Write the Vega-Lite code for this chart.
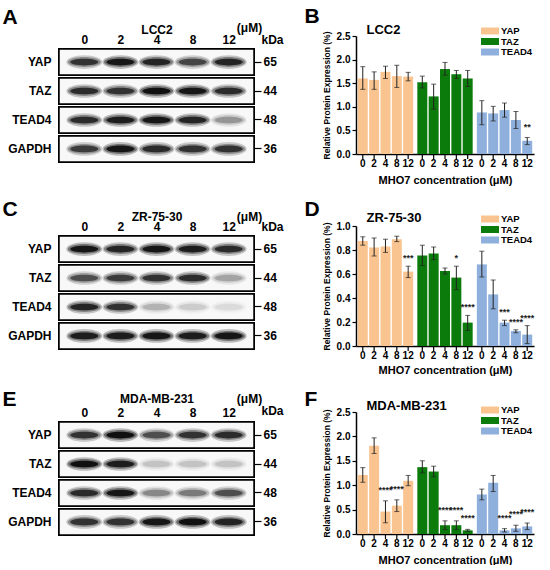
{
"$schema": "https://vega.github.io/schema/vega-lite/v6.json",
"background": "white",
"padding": {"left": 2, "top": 5, "right": 2, "bottom": 0},
"config": {"font": "Liberation Sans", "view": {"stroke": null}, "axis": {"labelColor": "black", "titleColor": "black"}, "axisQuantitative": {"tickCount": 6, "labelOverlap": false}},
"resolve": {"scale": {"color": "independent", "fillOpacity": "independent"}, "legend": {"color": "independent"}},
"datasets": {
"lcc2": [
{"protein":"YAP","dose":"0","mean":1.60,"lo":1.37,"hi":1.85,"sig":""},
{"protein":"YAP","dose":"2","mean":1.57,"lo":1.37,"hi":1.74,"sig":""},
{"protein":"YAP","dose":"4","mean":1.74,"lo":1.60,"hi":1.86,"sig":""},
{"protein":"YAP","dose":"8","mean":1.65,"lo":1.41,"hi":1.88,"sig":""},
{"protein":"YAP","dose":"12","mean":1.64,"lo":1.55,"hi":1.73,"sig":""},
{"protein":"TAZ","dose":"0","mean":1.52,"lo":1.40,"hi":1.65,"sig":""},
{"protein":"TAZ","dose":"2","mean":1.22,"lo":0.95,"hi":1.48,"sig":""},
{"protein":"TAZ","dose":"4","mean":1.80,"lo":1.67,"hi":1.94,"sig":""},
{"protein":"TAZ","dose":"8","mean":1.69,"lo":1.60,"hi":1.77,"sig":""},
{"protein":"TAZ","dose":"12","mean":1.60,"lo":1.43,"hi":1.77,"sig":""},
{"protein":"TEAD4","dose":"0","mean":0.88,"lo":0.62,"hi":1.13,"sig":""},
{"protein":"TEAD4","dose":"2","mean":0.86,"lo":0.70,"hi":1.01,"sig":""},
{"protein":"TEAD4","dose":"4","mean":0.93,"lo":0.78,"hi":1.08,"sig":""},
{"protein":"TEAD4","dose":"8","mean":0.72,"lo":0.54,"hi":0.90,"sig":""},
{"protein":"TEAD4","dose":"12","mean":0.28,"lo":0.20,"hi":0.35,"sig":"**"}
],
"zr": [
{"protein":"YAP","dose":"0","mean":0.875,"lo":0.84,"hi":0.91,"sig":""},
{"protein":"YAP","dose":"2","mean":0.82,"lo":0.75,"hi":0.90,"sig":""},
{"protein":"YAP","dose":"4","mean":0.83,"lo":0.78,"hi":0.89,"sig":""},
{"protein":"YAP","dose":"8","mean":0.89,"lo":0.87,"hi":0.915,"sig":""},
{"protein":"YAP","dose":"12","mean":0.62,"lo":0.57,"hi":0.665,"sig":"***"},
{"protein":"TAZ","dose":"0","mean":0.755,"lo":0.67,"hi":0.84,"sig":""},
{"protein":"TAZ","dose":"2","mean":0.77,"lo":0.72,"hi":0.825,"sig":""},
{"protein":"TAZ","dose":"4","mean":0.625,"lo":0.60,"hi":0.65,"sig":""},
{"protein":"TAZ","dose":"8","mean":0.57,"lo":0.47,"hi":0.665,"sig":"*"},
{"protein":"TAZ","dose":"12","mean":0.195,"lo":0.13,"hi":0.255,"sig":"****"},
{"protein":"TEAD4","dose":"0","mean":0.68,"lo":0.575,"hi":0.79,"sig":""},
{"protein":"TEAD4","dose":"2","mean":0.43,"lo":0.31,"hi":0.55,"sig":""},
{"protein":"TEAD4","dose":"4","mean":0.195,"lo":0.17,"hi":0.215,"sig":"***"},
{"protein":"TEAD4","dose":"8","mean":0.125,"lo":0.11,"hi":0.135,"sig":"****"},
{"protein":"TEAD4","dose":"12","mean":0.095,"lo":0.02,"hi":0.17,"sig":"****"}
],
"mda": [
{"protein":"YAP","dose":"0","mean":1.21,"lo":1.06,"hi":1.36,"sig":""},
{"protein":"YAP","dose":"2","mean":1.81,"lo":1.65,"hi":1.97,"sig":""},
{"protein":"YAP","dose":"4","mean":0.46,"lo":0.23,"hi":0.68,"sig":"****"},
{"protein":"YAP","dose":"8","mean":0.58,"lo":0.46,"hi":0.70,"sig":"****"},
{"protein":"YAP","dose":"12","mean":1.09,"lo":0.99,"hi":1.20,"sig":""},
{"protein":"TAZ","dose":"0","mean":1.37,"lo":1.25,"hi":1.50,"sig":""},
{"protein":"TAZ","dose":"2","mean":1.28,"lo":1.17,"hi":1.39,"sig":""},
{"protein":"TAZ","dose":"4","mean":0.18,"lo":0.09,"hi":0.27,"sig":"****"},
{"protein":"TAZ","dose":"8","mean":0.18,"lo":0.09,"hi":0.27,"sig":"****"},
{"protein":"TAZ","dose":"12","mean":0.075,"lo":0.055,"hi":0.095,"sig":"****"},
{"protein":"TEAD4","dose":"0","mean":0.81,"lo":0.70,"hi":0.92,"sig":""},
{"protein":"TEAD4","dose":"2","mean":1.05,"lo":0.87,"hi":1.20,"sig":""},
{"protein":"TEAD4","dose":"4","mean":0.075,"lo":0.04,"hi":0.11,"sig":"****"},
{"protein":"TEAD4","dose":"8","mean":0.115,"lo":0.055,"hi":0.18,"sig":"****"},
{"protein":"TEAD4","dose":"12","mean":0.155,"lo":0.09,"hi":0.225,"sig":"****"}
],
"blotA": [
{"protein":"YAP","lane":"0","v":0.75},{"protein":"YAP","lane":"2","v":0.95},{"protein":"YAP","lane":"4","v":0.85},{"protein":"YAP","lane":"8","v":0.65},{"protein":"YAP","lane":"12","v":0.85},
{"protein":"TAZ","lane":"0","v":0.8},{"protein":"TAZ","lane":"2","v":0.75},{"protein":"TAZ","lane":"4","v":1.0},{"protein":"TAZ","lane":"8","v":0.95},{"protein":"TAZ","lane":"12","v":0.8},
{"protein":"TEAD4","lane":"0","v":0.8},{"protein":"TEAD4","lane":"2","v":0.9},{"protein":"TEAD4","lane":"4","v":0.95},{"protein":"TEAD4","lane":"8","v":0.85},{"protein":"TEAD4","lane":"12","v":0.3},
{"protein":"GAPDH","lane":"0","v":0.7},{"protein":"GAPDH","lane":"2","v":0.95},{"protein":"GAPDH","lane":"4","v":0.8},{"protein":"GAPDH","lane":"8","v":0.75},{"protein":"GAPDH","lane":"12","v":0.75}
],
"blotC": [
{"protein":"YAP","lane":"0","v":0.95},{"protein":"YAP","lane":"2","v":0.85},{"protein":"YAP","lane":"4","v":0.95},{"protein":"YAP","lane":"8","v":0.9},{"protein":"YAP","lane":"12","v":0.8},
{"protein":"TAZ","lane":"0","v":0.6},{"protein":"TAZ","lane":"2","v":0.7},{"protein":"TAZ","lane":"4","v":0.75},{"protein":"TAZ","lane":"8","v":0.8},{"protein":"TAZ","lane":"12","v":0.25},
{"protein":"TEAD4","lane":"0","v":0.85},{"protein":"TEAD4","lane":"2","v":0.75},{"protein":"TEAD4","lane":"4","v":0.2},{"protein":"TEAD4","lane":"8","v":0.12},{"protein":"TEAD4","lane":"12","v":0.08},
{"protein":"GAPDH","lane":"0","v":0.9},{"protein":"GAPDH","lane":"2","v":0.9},{"protein":"GAPDH","lane":"4","v":0.95},{"protein":"GAPDH","lane":"8","v":0.9},{"protein":"GAPDH","lane":"12","v":0.95}
],
"blotE": [
{"protein":"YAP","lane":"0","v":0.75},{"protein":"YAP","lane":"2","v":1.0},{"protein":"YAP","lane":"4","v":0.6},{"protein":"YAP","lane":"8","v":0.75},{"protein":"YAP","lane":"12","v":0.8},
{"protein":"TAZ","lane":"0","v":1.0},{"protein":"TAZ","lane":"2","v":0.9},{"protein":"TAZ","lane":"4","v":0.15},{"protein":"TAZ","lane":"8","v":0.15},{"protein":"TAZ","lane":"12","v":0.15},
{"protein":"TEAD4","lane":"0","v":0.8},{"protein":"TEAD4","lane":"2","v":0.95},{"protein":"TEAD4","lane":"4","v":0.35},{"protein":"TEAD4","lane":"8","v":0.4},{"protein":"TEAD4","lane":"12","v":0.6},
{"protein":"GAPDH","lane":"0","v":0.75},{"protein":"GAPDH","lane":"2","v":0.75},{"protein":"GAPDH","lane":"4","v":0.95},{"protein":"GAPDH","lane":"8","v":1.0},{"protein":"GAPDH","lane":"12","v":0.85}
]
},
"spacing": 13,
"vconcat": [
{"spacing": 20, "resolve": {"scale": {"color": "independent", "fillOpacity": "independent"}, "legend": {"color": "independent"}}, "hconcat": [
{"width": 195, "height": 126,
 "data": {"name": "blotA"},
 "layer": [
  {"mark": {"type": "rect", "fill": "#f8f8f8", "stroke": "black", "strokeWidth": 1.5},
   "encoding": {"y": {"field": "protein", "type": "nominal", "scale": {"domain": ["YAP","TAZ","TEAD4","GAPDH"], "paddingInner": 0.1, "paddingOuter": 0.2244, "align": 1}, "axis": {"orient": "left", "title": null, "ticks": false, "domain": false, "labelFontSize": 12, "labelFontWeight": "bold", "labelPadding": 8}}}},
  {"mark": {"type": "point", "shape": "M-1,0A1,0.38,0,1,1,1,0A1,0.38,0,1,1,-1,0Z", "size": 1296, "filled": true, "color": "black", "opacity": 0.25, "strokeWidth": 0},
   "encoding": {
    "x": {"field": "lane", "type": "nominal", "scale": {"domain": ["0","2","4","8","12"], "padding": 0.7}, "axis": {"orient": "top", "offset": -13, "labels": false, "ticks": false, "domain": false, "title": "(μM)", "titleFontSize": 12, "titleFontWeight": "bold", "titleX": 190, "titleY": -18, "titleAlign": "center", "titleBaseline": "alphabetic"}},
    "y": {"field": "protein", "type": "nominal", "axis": {"orient": "right", "title": "kDa", "titleAngle": 0, "titleX": 18, "titleY": 10, "titleAlign": "center", "titleBaseline": "bottom", "titleFontSize": 12, "titleFontWeight": "bold", "labelExpr": "datum.label == 'YAP' ? '65' : datum.label == 'TAZ' ? '44' : datum.label == 'TEAD4' ? '48' : '36'", "ticks": true, "tickSize": 7, "tickColor": "black", "tickWidth": 1.2, "domain": false, "labelFontSize": 12, "labelFontWeight": "bold", "labelPadding": 2}},
    "fillOpacity": {"field": "v", "type": "quantitative", "scale": {"domain": [0, 1], "range": [0, 1]}, "legend": null}}},
  {"mark": {"type": "point", "shape": "M-1,0A1,0.3,0,1,1,1,0A1,0.3,0,1,1,-1,0Z", "size": 1089, "filled": true, "color": "black", "opacity": 0.4, "strokeWidth": 0},
   "encoding": {
    "x": {"field": "lane", "type": "nominal", "axis": {"orient": "top", "offset": -13, "labels": false, "ticks": false, "domain": false, "title": "A", "titleFontSize": 21, "titleFontWeight": "bold", "titleX": -57, "titleY": -26, "titleAlign": "left", "titleBaseline": "alphabetic"}},
    "y": {"field": "protein", "type": "nominal", "axis": null},
    "fillOpacity": {"field": "v", "type": "quantitative", "legend": null}}},
  {"mark": {"type": "point", "shape": "M-1,0A1,0.24,0,1,1,1,0A1,0.24,0,1,1,-1,0Z", "size": 784, "filled": true, "color": "black", "opacity": 0.85, "strokeWidth": 0},
   "encoding": {
    "x": {"field": "lane", "type": "nominal", "axis": {"orient": "top", "offset": -13, "labelFontSize": 12, "labelFontWeight": "bold", "labelPadding": 3, "labelAngle": 0, "ticks": false, "domain": false, "title": "LCC2", "titleFontSize": 12, "titleFontWeight": "bold", "titleY": -16, "titleBaseline": "alphabetic"}},
    "y": {"field": "protein", "type": "nominal", "axis": null},
    "fillOpacity": {"field": "v", "type": "quantitative", "legend": null}}}
 ],
 "resolve": {"axis": {"x": "independent", "y": "independent"}}
},
{"width": 178, "height": 118,
 "data": {"name": "lcc2"},
 "encoding": {
  "x": {"field": "protein", "type": "nominal", "scale": {"domain": ["YAP","TAZ","TEAD4"], "paddingInner": 0.07, "paddingOuter": 0.03}, "axis": null},
  "xOffset": {"field": "dose", "type": "nominal", "scale": {"domain": ["0","2","4","8","12"], "paddingInner": 0.12, "paddingOuter": 0}}
 },
 "layer": [
  {"mark": {"type": "bar"},
   "encoding": {
    "x": {"field": "protein", "type": "nominal", "axis": {"orient": "bottom", "labels": false, "ticks": false, "domain": true, "domainColor": "black", "domainWidth": 1.5, "title": "MHO7 concentration (μM)", "titleFontSize": 11, "titleFontWeight": "bold", "titlePadding": 20}},
    "y": {"field": "mean", "type": "quantitative", "title": "Relative Protein Expression (%)", "scale": {"domain": [0, 2.5], "nice": false}, "axis": {"values": [0, 0.5, 1, 1.5, 2, 2.5], "format": ".1f", "labelOverlap": false, "grid": false, "labelFontSize": 10, "labelFontWeight": "bold", "tickSize": 4, "tickWidth": 1.2, "tickColor": "black", "domainColor": "black", "domainWidth": 1.5, "titleFontSize": 8.5, "titleFontWeight": "bold", "titlePadding": 5}},
    "color": {"field": "protein", "type": "nominal", "scale": {"domain": ["YAP","TAZ","TEAD4"], "range": ["#F9C48F", "#0B7B0B", "#8FB0DC"]}, "legend": {"orient": "none", "legendX": 129, "legendY": -10, "title": null, "symbolType": "M-1.8,-0.7H1.8V0.7H-1.8Z", "symbolSize": 100, "symbolStrokeWidth": 0, "symbolOpacity": 1, "labelFontSize": 9.5, "labelFontWeight": "bold", "labelOffset": 6, "rowPadding": 0.5}}}},
  {"mark": {"type": "rule", "color": "#222", "strokeWidth": 1},
   "encoding": {"y": {"field": "lo", "type": "quantitative", "scale": {"domain": [0, 2.5], "nice": false}, "title": "Relative Protein Expression (%)", "axis": {"values": [0, 0.5, 1, 1.5, 2, 2.5], "format": ".1f", "labelOverlap": false, "grid": false, "labelFontSize": 10, "labelFontWeight": "bold", "tickSize": 4, "tickWidth": 1.2, "tickColor": "black", "domainColor": "black", "domainWidth": 1.5, "titleFontSize": 8.5, "titleFontWeight": "bold", "titlePadding": 5}}, "y2": {"field": "hi"}}},
  {"mark": {"type": "tick", "size": 5, "thickness": 1, "color": "#222"},
   "encoding": {"y": {"field": "hi", "type": "quantitative", "scale": {"domain": [0, 2.5], "nice": false}, "title": "Relative Protein Expression (%)", "axis": {"values": [0, 0.5, 1, 1.5, 2, 2.5], "format": ".1f", "labelOverlap": false, "grid": false, "labelFontSize": 10, "labelFontWeight": "bold", "tickSize": 4, "tickWidth": 1.2, "tickColor": "black", "domainColor": "black", "domainWidth": 1.5, "titleFontSize": 8.5, "titleFontWeight": "bold", "titlePadding": 5}}}},
  {"mark": {"type": "tick", "size": 5, "thickness": 1, "color": "#222"},
   "encoding": {"y": {"field": "lo", "type": "quantitative", "scale": {"domain": [0, 2.5], "nice": false}, "title": "Relative Protein Expression (%)", "axis": {"values": [0, 0.5, 1, 1.5, 2, 2.5], "format": ".1f", "labelOverlap": false, "grid": false, "labelFontSize": 10, "labelFontWeight": "bold", "tickSize": 4, "tickWidth": 1.2, "tickColor": "black", "domainColor": "black", "domainWidth": 1.5, "titleFontSize": 8.5, "titleFontWeight": "bold", "titlePadding": 5}}}},
  {"mark": {"type": "text", "fontSize": 9, "fontWeight": "bold", "baseline": "bottom", "dy": -5, "color": "#222"},
   "encoding": {"y": {"field": "hi", "type": "quantitative", "scale": {"domain": [0, 2.5], "nice": false}, "title": "Relative Protein Expression (%)", "axis": {"values": [0, 0.5, 1, 1.5, 2, 2.5], "format": ".1f", "labelOverlap": false, "grid": false, "labelFontSize": 10, "labelFontWeight": "bold", "tickSize": 4, "tickWidth": 1.2, "tickColor": "black", "domainColor": "black", "domainWidth": 1.5, "titleFontSize": 8.5, "titleFontWeight": "bold", "titlePadding": 5}}, "text": {"field": "sig"}}},
  {"mark": {"type": "text", "fontSize": 10, "fontWeight": "bold", "baseline": "top", "dy": 5, "color": "black"},
   "encoding": {
    "x": {"field": "protein", "type": "nominal", "axis": {"orient": "top", "labels": false, "ticks": false, "domain": false, "title": "LCC2", "titleFontSize": 13, "titleFontWeight": "bold", "titleX": 10, "titleY": -3, "titleAlign": "left", "titleBaseline": "alphabetic"}},
    "y": {"datum": 0, "type": "quantitative", "scale": {"domain": [0, 2.5], "nice": false}, "title": "Relative Protein Expression (%)", "axis": {"values": [0, 0.5, 1, 1.5, 2, 2.5], "format": ".1f", "labelOverlap": false, "grid": false, "labelFontSize": 10, "labelFontWeight": "bold", "tickSize": 4, "tickWidth": 1.2, "tickColor": "black", "domainColor": "black", "domainWidth": 1.5, "titleFontSize": 8.5, "titleFontWeight": "bold", "titlePadding": 5}}, "text": {"field": "dose"}}},
  {"mark": {"type": "point", "shape": "M0,0L0,1", "size": 100, "color": "black", "strokeWidth": 1.2, "opacity": 1, "filled": false},
   "encoding": {
    "x": {"field": "protein", "type": "nominal", "axis": {"orient": "top", "labels": false, "ticks": false, "domain": false, "title": "B", "titleFontSize": 21, "titleFontWeight": "bold", "titleX": -52, "titleY": -14, "titleAlign": "left", "titleBaseline": "alphabetic"}},
    "y": {"datum": 0, "type": "quantitative", "scale": {"domain": [0, 2.5], "nice": false}, "title": "Relative Protein Expression (%)", "axis": {"values": [0, 0.5, 1, 1.5, 2, 2.5], "format": ".1f", "labelOverlap": false, "grid": false, "labelFontSize": 10, "labelFontWeight": "bold", "tickSize": 4, "tickWidth": 1.2, "tickColor": "black", "domainColor": "black", "domainWidth": 1.5, "titleFontSize": 8.5, "titleFontWeight": "bold", "titlePadding": 5}}}}
 ],
 "resolve": {"axis": {"x": "independent"}}
}
]},
{"spacing": 20, "resolve": {"scale": {"color": "independent", "fillOpacity": "independent"}, "legend": {"color": "independent"}}, "hconcat": [
{"width": 195, "height": 123,
 "data": {"name": "blotC"},
 "layer": [
  {"mark": {"type": "rect", "fill": "#f8f8f8", "stroke": "black", "strokeWidth": 1.5},
   "encoding": {"y": {"field": "protein", "type": "nominal", "scale": {"domain": ["YAP","TAZ","TEAD4","GAPDH"], "paddingInner": 0.1, "paddingOuter": 0.1726, "align": 1}, "axis": {"orient": "left", "title": null, "ticks": false, "domain": false, "labelFontSize": 12, "labelFontWeight": "bold", "labelPadding": 8}}}},
  {"mark": {"type": "point", "shape": "M-1,0A1,0.38,0,1,1,1,0A1,0.38,0,1,1,-1,0Z", "size": 1296, "filled": true, "color": "black", "opacity": 0.25, "strokeWidth": 0},
   "encoding": {
    "x": {"field": "lane", "type": "nominal", "scale": {"domain": ["0","2","4","8","12"], "padding": 0.7}, "axis": {"orient": "top", "offset": -10, "labels": false, "ticks": false, "domain": false, "title": "(μM)", "titleFontSize": 12, "titleFontWeight": "bold", "titleX": 190, "titleY": -16, "titleAlign": "center", "titleBaseline": "alphabetic"}},
    "y": {"field": "protein", "type": "nominal", "axis": {"orient": "right", "title": "kDa", "titleAngle": 0, "titleX": 18, "titleY": 7, "titleAlign": "center", "titleBaseline": "bottom", "titleFontSize": 12, "titleFontWeight": "bold", "labelExpr": "datum.label == 'YAP' ? '65' : datum.label == 'TAZ' ? '44' : datum.label == 'TEAD4' ? '48' : '36'", "ticks": true, "tickSize": 7, "tickColor": "black", "tickWidth": 1.2, "domain": false, "labelFontSize": 12, "labelFontWeight": "bold", "labelPadding": 2}},
    "fillOpacity": {"field": "v", "type": "quantitative", "scale": {"domain": [0, 1], "range": [0, 1]}, "legend": null}}},
  {"mark": {"type": "point", "shape": "M-1,0A1,0.3,0,1,1,1,0A1,0.3,0,1,1,-1,0Z", "size": 1089, "filled": true, "color": "black", "opacity": 0.4, "strokeWidth": 0},
   "encoding": {
    "x": {"field": "lane", "type": "nominal", "axis": {"orient": "top", "offset": -10, "labels": false, "ticks": false, "domain": false, "title": "C", "titleFontSize": 21, "titleFontWeight": "bold", "titleX": -57, "titleY": -21, "titleAlign": "left", "titleBaseline": "alphabetic"}},
    "y": {"field": "protein", "type": "nominal", "axis": null},
    "fillOpacity": {"field": "v", "type": "quantitative", "legend": null}}},
  {"mark": {"type": "point", "shape": "M-1,0A1,0.24,0,1,1,1,0A1,0.24,0,1,1,-1,0Z", "size": 784, "filled": true, "color": "black", "opacity": 0.85, "strokeWidth": 0},
   "encoding": {
    "x": {"field": "lane", "type": "nominal", "axis": {"orient": "top", "offset": -10, "labelFontSize": 12, "labelFontWeight": "bold", "labelPadding": 3, "labelAngle": 0, "ticks": false, "domain": false, "title": "ZR-75-30", "titleFontSize": 12, "titleFontWeight": "bold", "titleY": -16, "titleBaseline": "alphabetic"}},
    "y": {"field": "protein", "type": "nominal", "axis": null},
    "fillOpacity": {"field": "v", "type": "quantitative", "legend": null}}}
 ],
 "resolve": {"axis": {"x": "independent", "y": "independent"}}
},
{"width": 178, "height": 120,
 "data": {"name": "zr"},
 "encoding": {
  "x": {"field": "protein", "type": "nominal", "scale": {"domain": ["YAP","TAZ","TEAD4"], "paddingInner": 0.07, "paddingOuter": 0.03}, "axis": null},
  "xOffset": {"field": "dose", "type": "nominal", "scale": {"domain": ["0","2","4","8","12"], "paddingInner": 0.12, "paddingOuter": 0}}
 },
 "layer": [
  {"mark": {"type": "bar"},
   "encoding": {
    "x": {"field": "protein", "type": "nominal", "axis": {"orient": "bottom", "labels": false, "ticks": false, "domain": true, "domainColor": "black", "domainWidth": 1.5, "title": "MHO7 concentration (μM)", "titleFontSize": 11, "titleFontWeight": "bold", "titlePadding": 18}},
    "y": {"field": "mean", "type": "quantitative", "title": "Relative Protein Expression (%)", "scale": {"domain": [0, 1], "nice": false}, "axis": {"values": [0, 0.2, 0.4, 0.6, 0.8, 1], "format": ".1f", "labelOverlap": false, "grid": false, "labelFontSize": 10, "labelFontWeight": "bold", "tickSize": 4, "tickWidth": 1.2, "tickColor": "black", "domainColor": "black", "domainWidth": 1.5, "titleFontSize": 8.5, "titleFontWeight": "bold", "titlePadding": 5}},
    "color": {"field": "protein", "type": "nominal", "scale": {"domain": ["YAP","TAZ","TEAD4"], "range": ["#F9C48F", "#0B7B0B", "#8FB0DC"]}, "legend": {"orient": "none", "legendX": 129, "legendY": -12, "title": null, "symbolType": "M-1.8,-0.7H1.8V0.7H-1.8Z", "symbolSize": 100, "symbolStrokeWidth": 0, "symbolOpacity": 1, "labelFontSize": 9.5, "labelFontWeight": "bold", "labelOffset": 6, "rowPadding": 0.5}}}},
  {"mark": {"type": "rule", "color": "#222", "strokeWidth": 1},
   "encoding": {"y": {"field": "lo", "type": "quantitative", "scale": {"domain": [0, 1], "nice": false}, "title": "Relative Protein Expression (%)", "axis": {"values": [0, 0.2, 0.4, 0.6, 0.8, 1], "format": ".1f", "labelOverlap": false, "grid": false, "labelFontSize": 10, "labelFontWeight": "bold", "tickSize": 4, "tickWidth": 1.2, "tickColor": "black", "domainColor": "black", "domainWidth": 1.5, "titleFontSize": 8.5, "titleFontWeight": "bold", "titlePadding": 5}}, "y2": {"field": "hi"}}},
  {"mark": {"type": "tick", "size": 5, "thickness": 1, "color": "#222"},
   "encoding": {"y": {"field": "hi", "type": "quantitative", "scale": {"domain": [0, 1], "nice": false}, "title": "Relative Protein Expression (%)", "axis": {"values": [0, 0.2, 0.4, 0.6, 0.8, 1], "format": ".1f", "labelOverlap": false, "grid": false, "labelFontSize": 10, "labelFontWeight": "bold", "tickSize": 4, "tickWidth": 1.2, "tickColor": "black", "domainColor": "black", "domainWidth": 1.5, "titleFontSize": 8.5, "titleFontWeight": "bold", "titlePadding": 5}}}},
  {"mark": {"type": "tick", "size": 5, "thickness": 1, "color": "#222"},
   "encoding": {"y": {"field": "lo", "type": "quantitative", "scale": {"domain": [0, 1], "nice": false}, "title": "Relative Protein Expression (%)", "axis": {"values": [0, 0.2, 0.4, 0.6, 0.8, 1], "format": ".1f", "labelOverlap": false, "grid": false, "labelFontSize": 10, "labelFontWeight": "bold", "tickSize": 4, "tickWidth": 1.2, "tickColor": "black", "domainColor": "black", "domainWidth": 1.5, "titleFontSize": 8.5, "titleFontWeight": "bold", "titlePadding": 5}}}},
  {"mark": {"type": "text", "fontSize": 9, "fontWeight": "bold", "baseline": "bottom", "dy": -3, "color": "#222"},
   "encoding": {"y": {"field": "hi", "type": "quantitative", "scale": {"domain": [0, 1], "nice": false}, "title": "Relative Protein Expression (%)", "axis": {"values": [0, 0.2, 0.4, 0.6, 0.8, 1], "format": ".1f", "labelOverlap": false, "grid": false, "labelFontSize": 10, "labelFontWeight": "bold", "tickSize": 4, "tickWidth": 1.2, "tickColor": "black", "domainColor": "black", "domainWidth": 1.5, "titleFontSize": 8.5, "titleFontWeight": "bold", "titlePadding": 5}}, "text": {"field": "sig"}}},
  {"mark": {"type": "text", "fontSize": 10, "fontWeight": "bold", "baseline": "top", "dy": 5, "color": "black"},
   "encoding": {
    "x": {"field": "protein", "type": "nominal", "axis": {"orient": "top", "labels": false, "ticks": false, "domain": false, "title": "ZR-75-30", "titleFontSize": 13, "titleFontWeight": "bold", "titleX": 10, "titleY": -5, "titleAlign": "left", "titleBaseline": "alphabetic"}},
    "y": {"datum": 0, "type": "quantitative", "scale": {"domain": [0, 1], "nice": false}, "title": "Relative Protein Expression (%)", "axis": {"values": [0, 0.2, 0.4, 0.6, 0.8, 1], "format": ".1f", "labelOverlap": false, "grid": false, "labelFontSize": 10, "labelFontWeight": "bold", "tickSize": 4, "tickWidth": 1.2, "tickColor": "black", "domainColor": "black", "domainWidth": 1.5, "titleFontSize": 8.5, "titleFontWeight": "bold", "titlePadding": 5}}, "text": {"field": "dose"}}},
  {"mark": {"type": "point", "shape": "M0,0L0,1", "size": 100, "color": "black", "strokeWidth": 1.2, "opacity": 1, "filled": false},
   "encoding": {
    "x": {"field": "protein", "type": "nominal", "axis": {"orient": "top", "labels": false, "ticks": false, "domain": false, "title": "D", "titleFontSize": 21, "titleFontWeight": "bold", "titleX": -52, "titleY": -11, "titleAlign": "left", "titleBaseline": "alphabetic"}},
    "y": {"datum": 0, "type": "quantitative", "scale": {"domain": [0, 1], "nice": false}, "title": "Relative Protein Expression (%)", "axis": {"values": [0, 0.2, 0.4, 0.6, 0.8, 1], "format": ".1f", "labelOverlap": false, "grid": false, "labelFontSize": 10, "labelFontWeight": "bold", "tickSize": 4, "tickWidth": 1.2, "tickColor": "black", "domainColor": "black", "domainWidth": 1.5, "titleFontSize": 8.5, "titleFontWeight": "bold", "titlePadding": 5}}}}
 ],
 "resolve": {"axis": {"x": "independent"}}
}
]},
{"spacing": 20, "resolve": {"scale": {"color": "independent", "fillOpacity": "independent"}, "legend": {"color": "independent"}}, "hconcat": [
{"width": 195, "height": 123,
 "data": {"name": "blotE"},
 "layer": [
  {"mark": {"type": "rect", "fill": "#f8f8f8", "stroke": "black", "strokeWidth": 1.5},
   "encoding": {"y": {"field": "protein", "type": "nominal", "scale": {"domain": ["YAP","TAZ","TEAD4","GAPDH"], "paddingInner": 0.1, "paddingOuter": 0.1726, "align": 1}, "axis": {"orient": "left", "title": null, "ticks": false, "domain": false, "labelFontSize": 12, "labelFontWeight": "bold", "labelPadding": 8}}}},
  {"mark": {"type": "point", "shape": "M-1,0A1,0.38,0,1,1,1,0A1,0.38,0,1,1,-1,0Z", "size": 1296, "filled": true, "color": "black", "opacity": 0.25, "strokeWidth": 0},
   "encoding": {
    "x": {"field": "lane", "type": "nominal", "scale": {"domain": ["0","2","4","8","12"], "padding": 0.7}, "axis": {"orient": "top", "offset": -10, "labels": false, "ticks": false, "domain": false, "title": "(μM)", "titleFontSize": 12, "titleFontWeight": "bold", "titleX": 190, "titleY": -20, "titleAlign": "center", "titleBaseline": "alphabetic"}},
    "y": {"field": "protein", "type": "nominal", "axis": {"orient": "right", "title": "kDa", "titleAngle": 0, "titleX": 18, "titleY": 5, "titleAlign": "center", "titleBaseline": "bottom", "titleFontSize": 12, "titleFontWeight": "bold", "labelExpr": "datum.label == 'YAP' ? '65' : datum.label == 'TAZ' ? '44' : datum.label == 'TEAD4' ? '48' : '36'", "ticks": true, "tickSize": 7, "tickColor": "black", "tickWidth": 1.2, "domain": false, "labelFontSize": 12, "labelFontWeight": "bold", "labelPadding": 2}},
    "fillOpacity": {"field": "v", "type": "quantitative", "scale": {"domain": [0, 1], "range": [0, 1]}, "legend": null}}},
  {"mark": {"type": "point", "shape": "M-1,0A1,0.3,0,1,1,1,0A1,0.3,0,1,1,-1,0Z", "size": 1089, "filled": true, "color": "black", "opacity": 0.4, "strokeWidth": 0},
   "encoding": {
    "x": {"field": "lane", "type": "nominal", "axis": {"orient": "top", "offset": -10, "labels": false, "ticks": false, "domain": false, "title": "E", "titleFontSize": 21, "titleFontWeight": "bold", "titleX": -57, "titleY": -17, "titleAlign": "left", "titleBaseline": "alphabetic"}},
    "y": {"field": "protein", "type": "nominal", "axis": null},
    "fillOpacity": {"field": "v", "type": "quantitative", "legend": null}}},
  {"mark": {"type": "point", "shape": "M-1,0A1,0.24,0,1,1,1,0A1,0.24,0,1,1,-1,0Z", "size": 784, "filled": true, "color": "black", "opacity": 0.85, "strokeWidth": 0},
   "encoding": {
    "x": {"field": "lane", "type": "nominal", "axis": {"orient": "top", "offset": -10, "labelFontSize": 12, "labelFontWeight": "bold", "labelPadding": 3, "labelAngle": 0, "ticks": false, "domain": false, "title": "MDA-MB-231", "titleFontSize": 12, "titleFontWeight": "bold", "titleY": -20, "titleBaseline": "alphabetic"}},
    "y": {"field": "protein", "type": "nominal", "axis": null},
    "fillOpacity": {"field": "v", "type": "quantitative", "legend": null}}}
 ],
 "resolve": {"axis": {"x": "independent", "y": "independent"}}
},
{"width": 178, "height": 122,
 "data": {"name": "mda"},
 "encoding": {
  "x": {"field": "protein", "type": "nominal", "scale": {"domain": ["YAP","TAZ","TEAD4"], "paddingInner": 0.07, "paddingOuter": 0.03}, "axis": null},
  "xOffset": {"field": "dose", "type": "nominal", "scale": {"domain": ["0","2","4","8","12"], "paddingInner": 0.12, "paddingOuter": 0}}
 },
 "layer": [
  {"mark": {"type": "bar"},
   "encoding": {
    "x": {"field": "protein", "type": "nominal", "axis": {"orient": "bottom", "labels": false, "ticks": false, "domain": true, "domainColor": "black", "domainWidth": 1.5, "title": "MHO7 concentration (μM)", "titleFontSize": 11, "titleFontWeight": "bold", "titlePadding": 20}},
    "y": {"field": "mean", "type": "quantitative", "title": "Relative Protein Expression (%)", "scale": {"domain": [0, 2.5], "nice": false}, "axis": {"values": [0, 0.5, 1, 1.5, 2, 2.5], "format": ".1f", "labelOverlap": false, "grid": false, "labelFontSize": 10, "labelFontWeight": "bold", "tickSize": 4, "tickWidth": 1.2, "tickColor": "black", "domainColor": "black", "domainWidth": 1.5, "titleFontSize": 8.5, "titleFontWeight": "bold", "titlePadding": 5}},
    "color": {"field": "protein", "type": "nominal", "scale": {"domain": ["YAP","TAZ","TEAD4"], "range": ["#F9C48F", "#0B7B0B", "#8FB0DC"]}, "legend": {"orient": "none", "legendX": 129, "legendY": -7, "title": null, "symbolType": "M-1.8,-0.7H1.8V0.7H-1.8Z", "symbolSize": 100, "symbolStrokeWidth": 0, "symbolOpacity": 1, "labelFontSize": 9.5, "labelFontWeight": "bold", "labelOffset": 6, "rowPadding": 0.5}}}},
  {"mark": {"type": "rule", "color": "#222", "strokeWidth": 1},
   "encoding": {"y": {"field": "lo", "type": "quantitative", "scale": {"domain": [0, 2.5], "nice": false}, "title": "Relative Protein Expression (%)", "axis": {"values": [0, 0.5, 1, 1.5, 2, 2.5], "format": ".1f", "labelOverlap": false, "grid": false, "labelFontSize": 10, "labelFontWeight": "bold", "tickSize": 4, "tickWidth": 1.2, "tickColor": "black", "domainColor": "black", "domainWidth": 1.5, "titleFontSize": 8.5, "titleFontWeight": "bold", "titlePadding": 5}}, "y2": {"field": "hi"}}},
  {"mark": {"type": "tick", "size": 5, "thickness": 1, "color": "#222"},
   "encoding": {"y": {"field": "hi", "type": "quantitative", "scale": {"domain": [0, 2.5], "nice": false}, "title": "Relative Protein Expression (%)", "axis": {"values": [0, 0.5, 1, 1.5, 2, 2.5], "format": ".1f", "labelOverlap": false, "grid": false, "labelFontSize": 10, "labelFontWeight": "bold", "tickSize": 4, "tickWidth": 1.2, "tickColor": "black", "domainColor": "black", "domainWidth": 1.5, "titleFontSize": 8.5, "titleFontWeight": "bold", "titlePadding": 5}}}},
  {"mark": {"type": "tick", "size": 5, "thickness": 1, "color": "#222"},
   "encoding": {"y": {"field": "lo", "type": "quantitative", "scale": {"domain": [0, 2.5], "nice": false}, "title": "Relative Protein Expression (%)", "axis": {"values": [0, 0.5, 1, 1.5, 2, 2.5], "format": ".1f", "labelOverlap": false, "grid": false, "labelFontSize": 10, "labelFontWeight": "bold", "tickSize": 4, "tickWidth": 1.2, "tickColor": "black", "domainColor": "black", "domainWidth": 1.5, "titleFontSize": 8.5, "titleFontWeight": "bold", "titlePadding": 5}}}},
  {"mark": {"type": "text", "fontSize": 9, "fontWeight": "bold", "baseline": "bottom", "dy": -6, "color": "#222"},
   "encoding": {"y": {"field": "hi", "type": "quantitative", "scale": {"domain": [0, 2.5], "nice": false}, "title": "Relative Protein Expression (%)", "axis": {"values": [0, 0.5, 1, 1.5, 2, 2.5], "format": ".1f", "labelOverlap": false, "grid": false, "labelFontSize": 10, "labelFontWeight": "bold", "tickSize": 4, "tickWidth": 1.2, "tickColor": "black", "domainColor": "black", "domainWidth": 1.5, "titleFontSize": 8.5, "titleFontWeight": "bold", "titlePadding": 5}}, "text": {"field": "sig"}}},
  {"mark": {"type": "text", "fontSize": 10, "fontWeight": "bold", "baseline": "top", "dy": 5, "color": "black"},
   "encoding": {
    "x": {"field": "protein", "type": "nominal", "axis": {"orient": "top", "labels": false, "ticks": false, "domain": false, "title": "MDA-MB-231", "titleFontSize": 13, "titleFontWeight": "bold", "titleX": 10, "titleY": -3, "titleAlign": "left", "titleBaseline": "alphabetic"}},
    "y": {"datum": 0, "type": "quantitative", "scale": {"domain": [0, 2.5], "nice": false}, "title": "Relative Protein Expression (%)", "axis": {"values": [0, 0.5, 1, 1.5, 2, 2.5], "format": ".1f", "labelOverlap": false, "grid": false, "labelFontSize": 10, "labelFontWeight": "bold", "tickSize": 4, "tickWidth": 1.2, "tickColor": "black", "domainColor": "black", "domainWidth": 1.5, "titleFontSize": 8.5, "titleFontWeight": "bold", "titlePadding": 5}}, "text": {"field": "dose"}}},
  {"mark": {"type": "point", "shape": "M0,0L0,1", "size": 100, "color": "black", "strokeWidth": 1.2, "opacity": 1, "filled": false},
   "encoding": {
    "x": {"field": "protein", "type": "nominal", "axis": {"orient": "top", "labels": false, "ticks": false, "domain": false, "title": "F", "titleFontSize": 21, "titleFontWeight": "bold", "titleX": -52, "titleY": -7, "titleAlign": "left", "titleBaseline": "alphabetic"}},
    "y": {"datum": 0, "type": "quantitative", "scale": {"domain": [0, 2.5], "nice": false}, "title": "Relative Protein Expression (%)", "axis": {"values": [0, 0.5, 1, 1.5, 2, 2.5], "format": ".1f", "labelOverlap": false, "grid": false, "labelFontSize": 10, "labelFontWeight": "bold", "tickSize": 4, "tickWidth": 1.2, "tickColor": "black", "domainColor": "black", "domainWidth": 1.5, "titleFontSize": 8.5, "titleFontWeight": "bold", "titlePadding": 5}}}}
 ],
 "resolve": {"axis": {"x": "independent"}}
}
]}
]
}
